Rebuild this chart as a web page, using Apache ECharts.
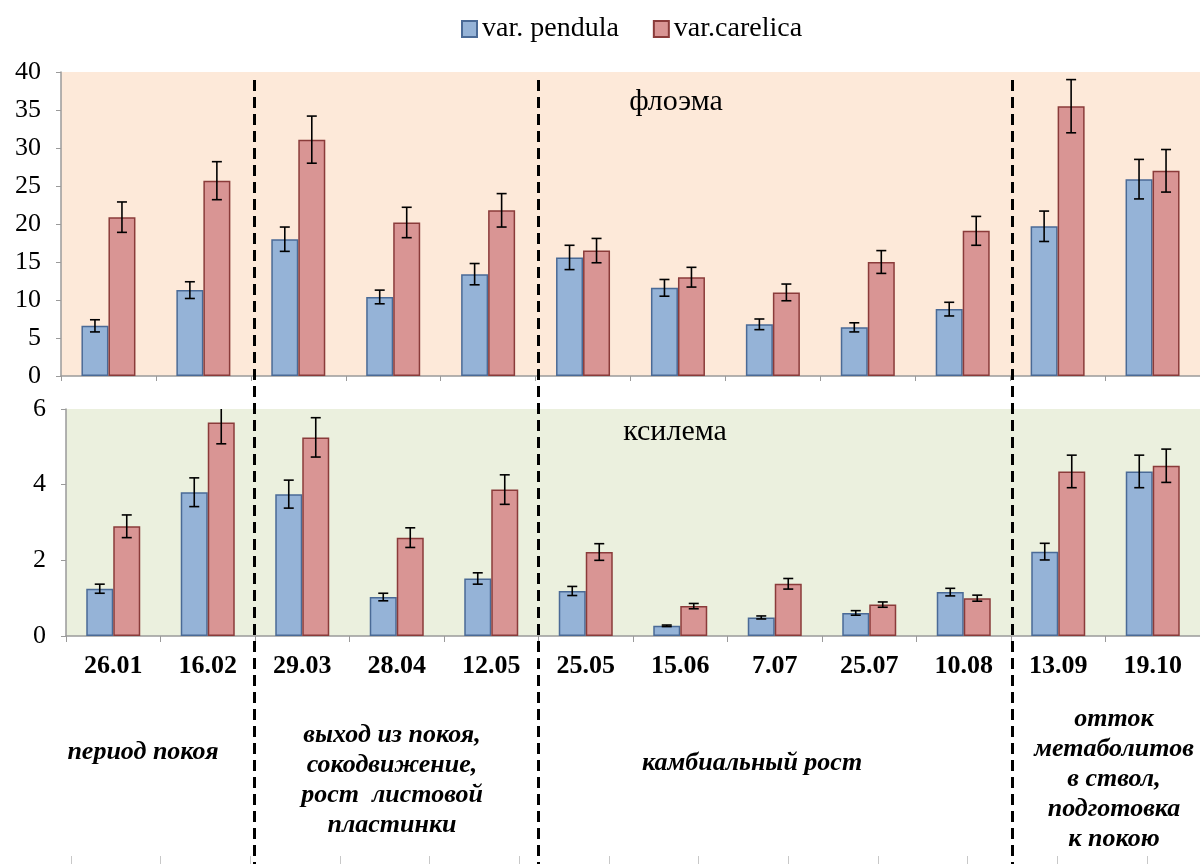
<!DOCTYPE html>
<html>
<head>
<meta charset="utf-8">
<script src="https://cdn.jsdelivr.net/npm/echarts@6/dist/echarts.min.js"></script>
<style>html,body{margin:0;padding:0;background:#fff}#c{width:1200px;height:864px}</style>
</head>
<body>
<div id="c"></div>
<script>
const categories = ['26.01','16.02','29.03','28.04','12.05','25.05','15.06','7.07','25.07','10.08','13.09','19.10'];
const seriesNames = ['var. pendula', 'var.carelica'];
const phloemPendula     = [6.6, 11.3, 18.0, 10.4, 13.4, 15.6, 11.6, 6.8, 6.4, 8.8, 19.7, 25.9];
const phloemPendulaErr  = [0.8, 1.1, 1.6, 0.9, 1.4, 1.6, 1.1, 0.7, 0.6, 0.9, 2.0, 2.6];
const phloemCarelica    = [20.9, 25.7, 31.1, 20.2, 21.8, 16.5, 13.0, 11.0, 15.0, 19.1, 35.5, 27.0];
const phloemCarelicaErr = [2.0, 2.5, 3.1, 2.0, 2.2, 1.6, 1.3, 1.1, 1.5, 1.9, 3.5, 2.8];
const xylemPendula      = [1.25, 3.8, 3.75, 1.03, 1.52, 1.19, 0.27, 0.49, 0.61, 1.16, 2.23, 4.35];
const xylemPendulaErr   = [0.12, 0.38, 0.37, 0.1, 0.15, 0.12, 0.02, 0.04, 0.06, 0.1, 0.22, 0.43];
const xylemCarelica     = [2.9, 5.64, 5.25, 2.6, 3.87, 2.22, 0.79, 1.38, 0.83, 1.0, 4.35, 4.5];
const xylemCarelicaErr  = [0.3, 0.56, 0.52, 0.26, 0.39, 0.22, 0.07, 0.14, 0.07, 0.08, 0.43, 0.44];
const panelTitles = ['флоэма', 'ксилема'];
const phaseBreaks = [2, 5, 10];
const phaseLabels = ['период покоя', 'выход из покоя,\nсокодвижение,\nрост  листовой\nпластинки', 'камбиальный рост', 'отток\nметаболитов\nв ствол,\nподготовка\nк покою'];

const FONT = "'Liberation Serif', 'Times New Roman', serif";
const BLUE = '#95b3d7', BLUE_B = '#4a6a96';
const RED = '#d99594', RED_B = '#8a3b3a';
const BW = 27;

function errSeries(name, xi, yi, vals, errs, offset) {
  return {
    type: 'custom', name: name, xAxisIndex: xi, yAxisIndex: yi, clip: true, z: 5,
    data: vals.map((v, i) => [i, v, errs[i]]),
    renderItem: function (params, api) {
      const i = api.value(0), v = api.value(1), e = api.value(2);
      const t = api.coord([i, v + e]), b = api.coord([i, v - e]);
      const x = t[0] + offset, cw = 5;
      const st = { stroke: '#000', lineWidth: 1.6 };
      return { type: 'group', children: [
        { type: 'line', shape: { x1: x, y1: t[1], x2: x, y2: b[1] }, style: st },
        { type: 'line', shape: { x1: x - cw, y1: t[1], x2: x + cw, y2: t[1] }, style: st },
        { type: 'line', shape: { x1: x - cw, y1: b[1], x2: x + cw, y2: b[1] }, style: st }
      ]};
    },
    tooltip: { show: false }
  };
}

function barSeries(name, xi, yi, vals, color, border) {
  return {
    type: 'bar', name: name, xAxisIndex: xi, yAxisIndex: yi, data: vals,
    barWidth: BW, barGap: '0%',
    itemStyle: { color: color, borderColor: border, borderWidth: 1.5 }
  };
}

const axisGray = '#9a9a9a';
const chart = echarts.init(document.getElementById('c'), null, { renderer: 'canvas' });

const option = {
  animation: false,
  textStyle: { fontFamily: FONT },
  legend: {
    data: seriesNames, left: 456, top: 10, itemWidth: 15, itemHeight: 16, itemGap: 34,
    icon: 'rect',
    textStyle: { fontFamily: FONT, fontSize: 28, color: '#000' }
  },
  grid: [
    { left: 61, top: 72, width: 1139, height: 304, show: true, backgroundColor: '#fde9d9', borderWidth: 0 },
    { left: 66, top: 409, width: 1134, height: 227, show: true, backgroundColor: '#ebf0de', borderWidth: 0 },
    { left: 71, top: 800, width: 1076, height: 56, show: false }
  ],
  xAxis: [
    { type: 'category', gridIndex: 0, data: categories,
      axisLine: { lineStyle: { color: axisGray, width: 1.5 } },
      axisTick: { show: true, length: 5, lineStyle: { color: axisGray } },
      axisLabel: { show: false } },
    { type: 'category', gridIndex: 1, data: categories,
      axisLine: { lineStyle: { color: axisGray, width: 1.5 } },
      axisTick: { show: true, length: 6, lineStyle: { color: axisGray } },
      axisLabel: { show: true, margin: 17, fontFamily: FONT, fontSize: 26, fontWeight: 'bold', color: '#000' } },
    { type: 'category', gridIndex: 2, data: ['', '', '', '', '', '', '', '', '', '', '', ''],
      axisLine: { show: false },
      axisTick: { show: true, length: 8, lineStyle: { color: '#c8c8c8' } },
      axisLabel: { show: false } }
  ],
  yAxis: [
    { type: 'value', gridIndex: 0, min: 0, max: 40, interval: 5,
      splitLine: { show: false },
      axisLine: { show: true, lineStyle: { color: axisGray, width: 1.5 } },
      axisTick: { show: true, length: 5, lineStyle: { color: axisGray } },
      axisLabel: { margin: 20, fontFamily: FONT, fontSize: 26, color: '#000' } },
    { type: 'value', gridIndex: 1, min: 0, max: 6, interval: 2,
      splitLine: { show: false },
      axisLine: { show: true, lineStyle: { color: axisGray, width: 1.5 } },
      axisTick: { show: true, length: 5, lineStyle: { color: axisGray } },
      axisLabel: { margin: 20, fontFamily: FONT, fontSize: 26, color: '#000' } },
    { type: 'value', gridIndex: 2, show: false }
  ],
  series: [
    barSeries(seriesNames[0], 0, 0, phloemPendula, BLUE, BLUE_B),
    barSeries(seriesNames[1], 0, 0, phloemCarelica, RED, RED_B),
    barSeries(seriesNames[0], 1, 1, xylemPendula, BLUE, BLUE_B),
    barSeries(seriesNames[1], 1, 1, xylemCarelica, RED, RED_B),
    errSeries('e1', 0, 0, phloemPendula, phloemPendulaErr, -BW / 2),
    errSeries('e2', 0, 0, phloemCarelica, phloemCarelicaErr, BW / 2),
    errSeries('e3', 1, 1, xylemPendula, xylemPendulaErr, -BW / 2),
    errSeries('e4', 1, 1, xylemCarelica, xylemCarelicaErr, BW / 2)
  ],
  graphic: [
    { type: 'text', z: 10, x: 676, y: 102,
      style: { text: panelTitles[0], font: "30px " + FONT, fill: '#000', align: 'center', verticalAlign: 'middle' } },
    { type: 'text', z: 10, x: 675, y: 432,
      style: { text: panelTitles[1], font: "30px " + FONT, fill: '#000', align: 'center', verticalAlign: 'middle' } }
  ]
};
chart.setOption(option);

// phase divider lines and phase labels computed from axis positions
const c0 = chart.convertToPixel({ xAxisIndex: 1 }, 0);
const c1 = chart.convertToPixel({ xAxisIndex: 1 }, 1);
const band = c1 - c0;
const gfx = option.graphic.slice();
phaseBreaks.forEach(k => {
  const xb = chart.convertToPixel({ xAxisIndex: 1 }, k) - band / 2;
  const xt = chart.convertToPixel({ xAxisIndex: 0 }, k) - band / 2;
  const x = Math.round((xb + xt) / 2 + 1) + 0.5;
  gfx.push({ type: 'line', z: 20, shape: { x1: x, y1: 80, x2: x, y2: 864 },
    style: { stroke: '#000', lineWidth: 3, lineDash: [11, 6] } });
});
const phaseCenters = [143, 392, 752, 1114];
const phaseMid = [752, 780, 763, 779];
phaseLabels.forEach((t, i) => {
  gfx.push({ type: 'text', z: 10, x: phaseCenters[i], y: phaseMid[i],
    style: { text: t, font: "italic bold 26px " + FONT, fill: '#000', align: 'center', verticalAlign: 'middle', lineHeight: 30 } });
});
chart.setOption({ graphic: gfx });
</script>
</body>
</html>
